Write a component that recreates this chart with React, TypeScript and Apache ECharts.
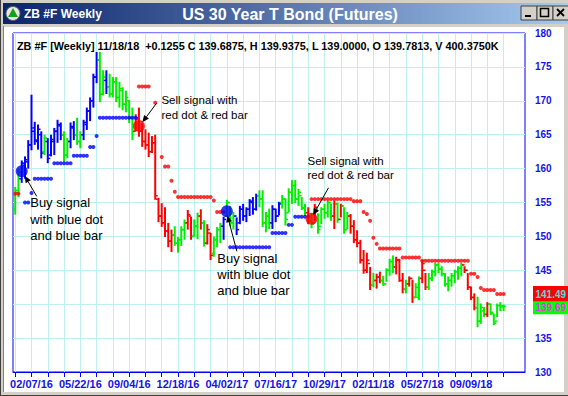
import React, { useEffect, useRef } from "react";
import * as echarts from "echarts";

// ---------- DATA (weekly bars, index 0 = week of 01/03/16) ----------
const highs = [
  157.3, 160.0, 161.2, 161.8, 164.2, 170.9, 166.9, 166.5, 165.5, 165.0,
  164.5, 165.0, 166.0, 167.2, 166.8, 165.5, 164.5, 166.8, 167.0, 167.5,
  165.5, 167.2, 169.0, 170.5, 174.0, 177.2, 177.2, 174.5, 174.5, 174.0,
  173.5, 173.5, 172.8, 172.0, 171.5, 170.1, 169.0, 168.0, 169.0, 166.7,
  165.8, 165.3, 164.8, 165.0, 155.7, 154.9, 154.3, 152.0, 151.0, 151.5,
  149.9, 151.5, 152.5, 153.9, 152.9, 152.5, 153.5, 154.0, 152.4, 151.8,
  150.5, 150.0, 151.4, 152.0, 152.9, 155.4, 154.5, 153.6, 152.8, 154.5,
  154.8, 154.3, 155.5, 155.8, 156.3, 156.8, 156.8, 153.6, 154.1, 154.6,
  154.1, 155.1, 156.1, 155.6, 157.1, 158.3, 158.3, 157.0, 155.8, 154.8,
  154.3, 153.4, 154.8, 153.4, 154.3, 154.8, 155.3, 154.8, 155.3, 155.0,
  154.8, 154.3, 153.6, 153.3, 152.4, 150.9, 149.5, 148.0, 147.6, 145.5,
  144.6, 144.5, 144.8, 144.2, 145.3, 146.7, 147.2, 147.0, 146.7, 144.6,
  143.6, 144.1, 143.6, 143.1, 144.1, 146.5, 144.6, 144.6, 145.1, 146.1,
  146.1, 145.6, 144.6, 144.1, 144.6, 145.1, 145.6, 146.1, 145.6, 144.6,
  142.6, 141.6, 141.1, 140.1, 139.6, 140.3, 140.1, 138.6, 140.1, 140.3,
  139.9375,
];
const lows = [
  153.2, 155.8, 157.9, 158.5, 160.0, 162.7, 163.5, 162.8, 161.5, 162.0,
  160.8, 161.8, 162.0, 163.8, 164.2, 161.0, 161.5, 163.0, 164.2, 163.5,
  163.0, 164.2, 165.7, 167.0, 169.0, 172.6, 169.8, 170.8, 171.0, 170.5,
  170.5, 169.8, 169.0, 168.6, 168.3, 166.7, 164.2, 165.5, 164.7, 163.2,
  162.8, 161.7, 162.3, 155.4, 152.1, 151.4, 149.9, 148.4, 147.7, 148.6,
  147.6, 148.6, 149.5, 151.0, 149.5, 150.0, 149.6, 151.0, 148.5, 148.8,
  146.5, 147.0, 148.4, 149.0, 149.5, 152.9, 151.5, 151.0, 150.2, 151.8,
  152.3, 152.1, 153.0, 153.2, 153.8, 154.3, 151.4, 150.6, 151.1, 151.1,
  152.1, 153.1, 154.1, 151.6, 153.6, 154.8, 154.9, 154.5, 153.9, 153.0,
  151.8, 151.2, 152.3, 150.4, 151.8, 152.6, 152.8, 152.3, 151.1, 152.0,
  152.8, 150.4, 151.1, 150.4, 149.0, 148.4, 146.0, 144.5, 144.6, 142.1,
  142.5, 142.3, 143.1, 142.7, 143.3, 144.2, 144.6, 144.4, 143.3, 141.6,
  141.6, 142.6, 140.2, 140.9, 140.6, 143.1, 142.1, 142.1, 143.4, 144.1,
  144.6, 144.1, 142.6, 141.9, 142.6, 143.1, 143.6, 144.1, 144.6, 142.1,
  140.6, 139.1, 136.6, 137.1, 138.1, 138.1, 138.4, 136.9, 138.1, 139.0,
  139.0,
];
const opens = [
  154.0, 156.5, 158.5, 160.5, 161.0, 163.5, 166.0, 164.0, 165.0, 162.5,
  164.0, 162.0, 164.0, 165.5, 166.3, 165.0, 162.0, 164.0, 166.0, 165.0,
  164.0, 165.0, 166.5, 168.5, 170.0, 173.5, 176.0, 171.0, 173.0, 172.0,
  171.0, 172.8, 170.5, 171.5, 169.5, 170.0, 167.5, 165.5, 167.5, 165.5,
  164.0, 163.5, 162.5, 163.8, 155.5, 153.0, 152.0, 150.8, 149.3, 150.2,
  149.0, 149.5, 151.0, 152.0, 153.0, 150.0, 151.5, 153.0, 152.0, 149.0,
  150.5, 147.5, 149.5, 151.0, 151.5, 153.0, 155.0, 152.0, 153.0, 152.0,
  154.0, 153.0, 154.0, 155.0, 154.0, 156.0, 155.5, 152.0, 153.0, 152.0,
  154.0, 153.0, 155.0, 155.5, 153.5, 156.5, 157.5, 155.5, 156.0, 154.2,
  153.5, 152.2, 152.0, 154.0, 151.5, 154.0, 153.5, 155.0, 153.0, 154.8,
  152.5, 154.5, 151.0, 153.0, 151.5, 149.5, 149.0, 146.5, 145.0, 146.0,
  142.8, 143.5, 144.0, 143.5, 143.0, 145.0, 146.3, 145.5, 146.5, 143.5,
  142.2, 143.0, 143.8, 141.0, 141.0, 143.8, 145.0, 142.5, 143.8, 144.8,
  145.8, 145.2, 144.5, 143.0, 143.5, 144.2, 144.8, 145.3, 145.8, 145.0,
  142.5, 141.0, 139.5, 137.5, 139.0, 138.5, 140.0, 138.6, 137.5, 139.8,
  139.7813,
];
const closes = [
  156.8, 159.5, 160.8, 161.3, 163.5, 165.5, 164.2, 165.8, 162.3, 164.5,
  161.5, 164.3, 165.5, 166.5, 165.0, 162.0, 164.0, 166.2, 165.0, 164.0,
  165.0, 166.8, 168.5, 170.0, 173.5, 176.0, 171.0, 173.5, 172.0, 171.0,
  172.8, 170.5, 171.8, 169.5, 170.5, 167.5, 165.5, 167.3, 165.5, 164.0,
  163.5, 162.5, 163.8, 156.0, 153.0, 152.0, 150.8, 149.3, 150.2, 149.0,
  149.5, 151.0, 152.0, 153.2, 150.0, 151.5, 153.0, 152.0, 149.0, 151.0,
  147.2, 149.5, 151.0, 151.5, 152.5, 155.0, 152.0, 153.0, 151.0, 154.0,
  153.0, 154.0, 155.2, 154.0, 156.0, 155.5, 152.0, 153.0, 152.0, 154.0,
  153.0, 154.8, 155.5, 152.5, 156.5, 157.5, 155.5, 156.5, 154.2, 153.5,
  152.2, 151.8, 154.3, 151.0, 154.0, 153.5, 155.0, 153.0, 154.8, 152.5,
  154.5, 151.0, 153.0, 151.5, 149.5, 149.0, 146.5, 145.0, 146.5, 142.8,
  143.5, 144.0, 143.5, 143.0, 145.0, 146.3, 145.5, 146.5, 143.5, 142.2,
  143.0, 143.8, 141.0, 142.5, 143.8, 146.0, 142.5, 143.8, 144.8, 145.8,
  145.2, 144.5, 143.0, 143.5, 144.2, 144.8, 145.3, 145.8, 145.0, 142.5,
  141.0, 139.5, 137.5, 139.5, 138.5, 140.0, 138.8, 137.2, 139.8, 139.6,
  139.6875,
];
// bar colour state: G = neutral (green), B = long (blue), R = short (red)
const barStates =
  "GGBBBBBBBGBBBBBGGBBGGBBBBBGGBGGGGGGGGRRRRRRRRRRRRGGGGRRGGRGRRGGGBGGGBBBBBBBGGGGBBBGGGGGGGGRGRGGGGGRGRGGRRRRRRRGRRGGGGRRRGRRGGRRGGGGGGGGGGGRRRRGGGRGGG";

// trailing stops (null = no dot)
const blueStop: (number | null)[] = [
  null, null, null, 155.0, 155.0, 156.4, 158.5, 158.5, 158.5, 158.5,
  158.5, 158.5, 160.8, 160.8, 160.8, 160.8, 160.8, 160.8, 161.9, 161.9,
  161.9, 161.9, 161.9, 163.2, 163.2, 164.8, 167.5, 167.5, 167.5, 167.5,
  167.5, 167.5, 167.5, 167.5, 167.5, 167.5, 167.5, 167.5, null, null,
  null, null, null, null, null, null, null, null, null, null,
  null, null, null, null, null, null, null, null, null, null,
  null, null, null, null, null, null, 148.4, 148.4, 148.4, 148.4,
  148.4, 148.4, 148.4, 148.4, 148.4, 148.4, 148.4, 148.4, 148.4, 150.5,
  150.5, 150.5, 150.5, 150.5, 151.7, 151.7, 152.9, 152.9, 152.9, 152.9,
  152.9,
];
const redStop: (number | null)[] = [
  156.3, 156.3, null, null, null, null, null, null, null, null,
  null, null, null, null, null, null, null, null, null, null,
  null, null, null, null, null, null, null, null, null, null,
  null, null, null, null, null, null, null, null, 172.1, 172.1,
  172.1, 172.1, null, 169.7, null, 161.7, 160.3, 160.3, 158.2, 156.6,
  155.8, 155.8, 155.8, 155.8, 155.8, 155.8, 155.8, 155.8, 155.8, 155.8,
  155.8, 155.3, 153.6, 153.6, 153.6, null, null, null, null, null,
  null, null, null, null, null, null, null, null, null, null,
  null, null, null, null, null, null, null, null, null, null,
  null, 155.5, 155.5, 155.5, 155.5, 155.5, 155.5, 155.5, 155.5, 155.5,
  155.5, 155.5, 155.5, 155.5, 155.2, 155.2, 155.2, 153.6, 153.3, 152.3,
  149.8, 148.9, 148.2, 148.2, 148.2, 148.2, 148.2, 148.2, 148.2, 146.9,
  146.9, 146.9, 146.9, 146.9, 146.9, 146.4, 146.4, 146.4, 146.4, 146.4,
  146.4, 146.4, 146.4, 146.4, 146.4, 146.4, 146.4, 146.4, 146.4, 146.4,
  144.5, 144.5, 144.0, 142.4, 142.1, 142.1, 142.1, 142.1, 141.5, 141.5,
  141.5,
];

// signal bars: bar index, price, kind
const signalIndex = [2, 38, 65, 91];
const signalPrice = [159.6, 166.3, 153.7, 152.6];
const signalKind = ["buy", "sell", "buy", "sell"];

const tickIndex = [0, 5, 10, 15, 20, 25, 30, 35, 40, 45, 50, 55, 60, 65, 70, 75, 80, 85, 90, 95, 100, 105, 110, 115, 120, 125, 130, 135, 140, 145, 150];
const labelIndex = [5, 20, 35, 50, 65, 80, 95, 110, 125, 140];
const tickLabels = ["02/07/16", "05/22/16", "09/04/16", "12/18/16", "04/02/17", "07/16/17", "10/29/17", "02/11/18", "05/27/18", "09/09/18"];

const lastStop = 141.4922;
const lastClose = 139.6875;

const titleLeft = "ZB #F Weekly";
const titleMain = "US 30 Year T Bond (Futures)";
const infoLine = "ZB #F [Weekly] 11/18/18  +0.1255 C 139.6875, H 139.9375, L 139.0000, O 139.7813, V 400.3750K";
const buyText = ["Buy signal", "with blue dot", "and blue bar"];
const sellText = ["Sell signal with", "red dot & red bar"];

// ---------- STYLE ----------
const FONT = "Liberation Sans, Arial, sans-serif";
const BLUE = "#0000ff";
const GREEN = "#00ee00";
const RED = "#ff0000";
const stateColor: Record<string, string> = { G: GREEN, B: BLUE, R: RED };
const AXIS_BLUE = "#1414e6";
const GRID_LINE = "#bff0f0";

export default function App() {
  const ref = useRef<HTMLDivElement>(null);

  useEffect(() => {
    const el = ref.current;
    if (!el) return;
    const chart = echarts.init(el, null, { renderer: "svg" });

    const ohlc = highs.map((h, i) => [i, opens[i], h, lows[i], closes[i]]);
    const blueDots = blueStop.map((v, i) => (v == null ? null : [i, v])).filter(Boolean);
    const redDots = redStop.map((v, i) => (v == null ? null : [i, v])).filter(Boolean);
    const buySignals = signalIndex
      .map((ix, k) => (signalKind[k] === "buy" ? [ix, signalPrice[k]] : null))
      .filter(Boolean);
    const sellSignals = signalIndex
      .map((ix, k) => (signalKind[k] === "sell" ? [ix, signalPrice[k]] : null))
      .filter(Boolean);

    const labelMap: Record<number, string> = {};
    labelIndex.forEach((ix, k) => (labelMap[ix] = tickLabels[k]));

    chart.setOption({
      animation: false,
      backgroundColor: "#ffffff",
      grid: {
        left: 13,
        right: 43,
        top: 33,
        bottom: 24,
        show: true,
        borderColor: BLUE,
        borderWidth: 1,
        backgroundColor: "transparent",
      },
      xAxis: {
        type: "value",
        min: -0.68,
        max: 156.57,
        axisLine: { show: true, lineStyle: { color: BLUE } },
        axisTick: {
          show: true,
          customValues: tickIndex,
          length: 5,
          lineStyle: { color: BLUE },
        },
        axisLabel: {
          customValues: labelIndex,
          formatter: (v: number) => labelMap[Math.round(v)] || "",
          color: AXIS_BLUE,
          fontFamily: FONT,
          fontWeight: "bold",
          fontSize: 11,
          margin: 6,
        },
        splitLine: { show: true, lineStyle: { color: GRID_LINE, width: 1 } },
      },
      yAxis: {
        type: "value",
        position: "right",
        min: 130,
        max: 180,
        interval: 5,
        axisLine: { show: false },
        axisTick: { show: false },
        axisLabel: {
          color: AXIS_BLUE,
          fontFamily: FONT,
          fontWeight: "bold",
          fontSize: 10,
          margin: 10,
          // the label hidden behind the last-value tags is not drawn
          formatter: (v: number) =>
            Math.abs(v - lastClose) < 2.2 || Math.abs(v - lastStop) < 2.2 ? "" : String(v),
        },
        splitLine: { show: true, lineStyle: { color: GRID_LINE, width: 1 } },
      },
      series: [
        {
          type: "custom",
          name: "bars",
          data: ohlc,
          encode: { x: 0, y: [1, 2, 3, 4] },
          z: 3,
          renderItem: (params: any, api: any) => {
            const i = api.value(0);
            const hi = api.coord([i, api.value(2)]);
            const lo = api.coord([i, api.value(3)]);
            const op = api.coord([i, api.value(1)]);
            const cl = api.coord([i, api.value(4)]);
            const color = stateColor[barStates[i]] || GREEN;
            return {
              type: "group",
              children: [
                {
                  type: "line",
                  shape: { x1: hi[0], y1: hi[1], x2: lo[0], y2: lo[1] },
                  style: { stroke: color, lineWidth: 2 },
                },
                {
                  type: "line",
                  shape: { x1: op[0] - 2.5, y1: op[1], x2: op[0], y2: op[1] },
                  style: { stroke: color, lineWidth: 1.5 },
                },
                {
                  type: "line",
                  shape: { x1: cl[0], y1: cl[1], x2: cl[0] + 2.5, y2: cl[1] },
                  style: { stroke: color, lineWidth: 1.5 },
                },
              ],
            };
          },
        },
        {
          type: "scatter",
          name: "blueStop",
          data: blueDots,
          symbol: "circle",
          symbolSize: 4,
          itemStyle: { color: BLUE },
          z: 4,
        },
        {
          type: "scatter",
          name: "redStop",
          data: redDots,
          symbol: "circle",
          symbolSize: 4,
          itemStyle: { color: RED },
          z: 4,
        },
        {
          type: "scatter",
          name: "buySignal",
          data: buySignals,
          symbol: "circle",
          symbolSize: 12,
          itemStyle: { color: BLUE },
          z: 5,
        },
        {
          type: "scatter",
          name: "sellSignal",
          data: sellSignals,
          symbol: "circle",
          symbolSize: 12,
          itemStyle: { color: RED },
          z: 5,
        },
      ],
    });

    // ---------- graphics: window chrome, annotations, last-value tags ----------
    const px = (x: number, y: number) => chart.convertToPixel({ gridIndex: 0 }, [x, y]) as number[];
    const g: any[] = [];

    // frame
    g.push({ type: "rect", shape: { x: 0, y: 0, width: 568, height: 27 }, style: { fill: "#d4d0c8" } });
    g.push({ type: "rect", shape: { x: 0, y: 0, width: 4, height: 396 }, style: { fill: "#d4d0c8" } });
    g.push({ type: "rect", shape: { x: 564, y: 0, width: 4, height: 396 }, style: { fill: "#d4d0c8" } });
    g.push({ type: "rect", shape: { x: 0, y: 392, width: 568, height: 4 }, style: { fill: "#d4d0c8" } });
    g.push({ type: "line", shape: { x1: 0.5, y1: 0, x2: 0.5, y2: 396 }, style: { stroke: "#404040", lineWidth: 1 } });
    g.push({ type: "line", shape: { x1: 0, y1: 395.5, x2: 568, y2: 395.5 }, style: { stroke: "#404040", lineWidth: 1 } });
    g.push({ type: "line", shape: { x1: 3.5, y1: 26, x2: 3.5, y2: 392 }, style: { stroke: "#808080", lineWidth: 1 } });
    // title bar
    g.push({
      type: "rect",
      shape: { x: 3, y: 3, width: 565, height: 21 },
      style: {
        fill: new echarts.graphic.LinearGradient(0, 0, 1, 0, [
          { offset: 0, color: "#0a246a" },
          { offset: 1, color: "#a6caf0" },
        ]),
      },
    });
    // title icon
    g.push({ type: "circle", shape: { cx: 13, cy: 13.5, r: 7 }, style: { fill: "#e8e8e8", stroke: "#606060", lineWidth: 1 } });
    g.push({ type: "polygon", shape: { points: [[13, 8], [18, 17], [8, 17]] }, style: { fill: "#18a018" } });
    g.push({
      type: "text",
      style: { text: titleLeft, x: 24, y: 14, fill: "#ffffff", font: `bold 12px ${FONT}`, verticalAlign: "middle" },
    });
    g.push({
      type: "text",
      style: { text: titleMain, x: 290, y: 14, fill: "#ffffff", font: `bold 16px ${FONT}`, align: "center", verticalAlign: "middle" },
    });
    // window buttons
    [521, 537, 553].forEach((bx, k) => {
      g.push({ type: "rect", shape: { x: bx, y: 6, width: 16, height: 14 }, style: { fill: "#d4d0c8", stroke: "#404040", lineWidth: 1 } });
      if (k === 0) g.push({ type: "line", shape: { x1: bx + 4, y1: 16, x2: bx + 10, y2: 16 }, style: { stroke: "#000", lineWidth: 2 } });
      if (k === 1) g.push({ type: "rect", shape: { x: bx + 3.5, y: 8.5, width: 8, height: 8 }, style: { fill: "none", stroke: "#000", lineWidth: 1.5 } });
      if (k === 2) {
        g.push({ type: "line", shape: { x1: bx + 4, y1: 9, x2: bx + 11, y2: 16 }, style: { stroke: "#000", lineWidth: 1.8 } });
        g.push({ type: "line", shape: { x1: bx + 11, y1: 9, x2: bx + 4, y2: 16 }, style: { stroke: "#000", lineWidth: 1.8 } });
      }
    });

    // info line
    g.push({
      type: "text",
      style: { text: infoLine, x: 17, y: 45.5, fill: "#000000", font: `bold 10.85px ${FONT}`, verticalAlign: "middle" },
      z: 50,
    });

    // annotations (offsets relative to each signal dot)
    const arrow = (x1: number, y1: number, x2: number, y2: number) => {
      const dx = x2 - x1, dy = y2 - y1;
      const len = Math.hypot(dx, dy);
      const ux = dx / len, uy = dy / len;
      const L = 7, Wd = 3;
      const bx = x2 - ux * L, by = y2 - uy * L;
      return [
        { type: "line", z: 60, shape: { x1, y1, x2: bx, y2: by }, style: { stroke: "#000", lineWidth: 1 } },
        {
          type: "polygon",
          z: 60,
          shape: { points: [[x2, y2], [bx - uy * Wd, by + ux * Wd], [bx + uy * Wd, by - ux * Wd]] },
          style: { fill: "#000" },
        },
      ];
    };
    const annot = [
      { tail: [15, 25], head: [3, 4.5], text: [8.5, 31.5], lh: 16.5, size: 13, lines: buyText },
      { tail: [17.5, -22.5], head: [3.4, -3.6], text: [22.5, -25.7], lh: 15, size: 11.5, lines: sellText },
      { tail: [10, 40], head: [0.5, 4], text: [-9.5, 47], lh: 16, size: 13, lines: buyText },
      { tail: [17, -31], head: [1.5, -3.5], text: [-4, -58], lh: 14.5, size: 11.5, lines: sellText },
    ];
    signalIndex.forEach((ix, k) => {
      const p = px(ix, signalPrice[k]);
      const a = annot[k];
      g.push(...arrow(p[0] + a.tail[0], p[1] + a.tail[1], p[0] + a.head[0], p[1] + a.head[1]));
      a.lines.forEach((ln, li) => {
        g.push({
          type: "text",
          z: 60,
          style: {
            text: ln,
            x: p[0] + a.text[0],
            y: p[1] + a.text[1] + li * a.lh,
            fill: "#000",
            font: `${a.size}px ${FONT}`,
            verticalAlign: "middle",
          },
        });
      });
    });

    // last value tags on the right
    const ys = px(0, lastStop)[1];
    const yc = px(0, lastClose)[1];
    g.push({ type: "rect", z: 40, shape: { x: 533, y: ys - 8, width: 35, height: 16 }, style: { fill: "#ff0000" } });
    g.push({
      type: "text",
      z: 41,
      style: { text: lastStop.toFixed(2), x: 535.5, y: ys, fill: "#40e0e0", font: `bold 10px ${FONT}`, verticalAlign: "middle" },
    });
    g.push({ type: "rect", z: 40, shape: { x: 533, y: yc - 5, width: 35, height: 13 }, style: { fill: "#00ff00" } });
    g.push({
      type: "text",
      z: 41,
      style: { text: lastClose.toFixed(2), x: 535.5, y: yc + 1, fill: "#e040e0", font: `bold 10px ${FONT}`, verticalAlign: "middle" },
    });

    chart.setOption({ graphic: g });

    return () => chart.dispose();
  }, []);

  return <div ref={ref} style={{ position: "fixed", left: 0, top: 0, width: 568, height: 396 }} />;
}
